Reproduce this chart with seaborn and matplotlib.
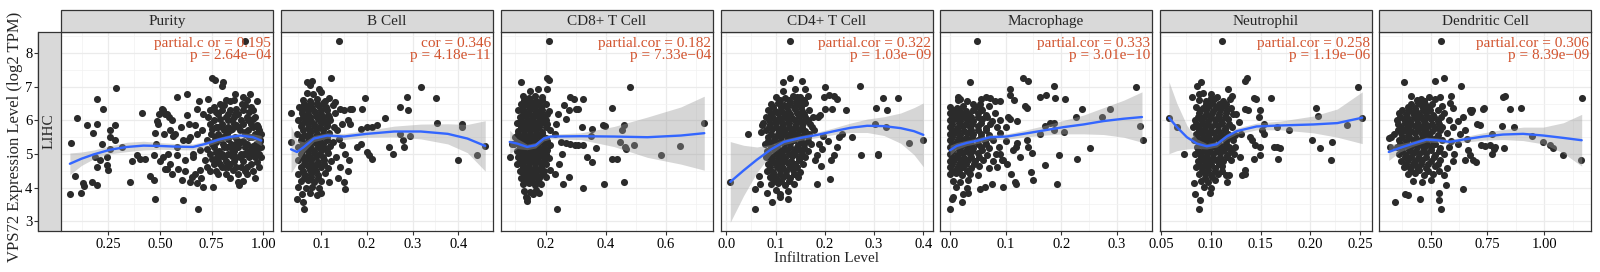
import matplotlib
matplotlib.use("Agg")
import matplotlib.pyplot as plt
from matplotlib.patches import Rectangle
from matplotlib.ticker import MultipleLocator
import numpy as np
import pandas as pd
import seaborn as sns

# ---- data ------------------------------------------------------------------
cells = ["Purity", "B Cell", "CD8+ T Cell", "CD4+ T Cell",
         "Macrophage", "Neutrophil", "Dendritic Cell"]
cor_labels = ["partial.c or = 0.195", "cor = 0.346", "partial.cor = 0.182",
              "partial.cor = 0.322", "partial.cor = 0.333", "partial.cor = 0.258",
              "partial.cor = 0.306"]
p_labels = ["p = 2.64e\u221204", "p = 4.18e\u221211", "p = 7.33e\u221204",
            "p = 1.03e\u221209", "p = 3.01e\u221210", "p = 1.19e\u221206",
            "p = 8.39e\u221209"]
x_ticks = [[0.25, 0.50, 0.75, 1.00], [0.1, 0.2, 0.3, 0.4], [0.2, 0.4, 0.6],
           [0.0, 0.1, 0.2, 0.3, 0.4], [0.0, 0.1, 0.2, 0.3],
           [0.05, 0.10, 0.15, 0.20, 0.25], [0.50, 0.75, 1.00]]
x_ticklabels = [["0.25", "0.50", "0.75", "1.00"], ["0.1", "0.2", "0.3", "0.4"],
                ["0.2", "0.4", "0.6"], ["0.0", "0.1", "0.2", "0.3", "0.4"],
                ["0.0", "0.1", "0.2", "0.3"],
                ["0.05", "0.10", "0.15", "0.20", "0.25"], ["0.50", "0.75", "1.00"]]
y_ticks = [3, 4, 5, 6, 7, 8]

purity_pts = [
    (0.064, 3.82), (0.068, 5.34), (0.097, 6.08), (0.089, 4.35), (0.116, 3.84), (0.129, 4.14),
    (0.132, 4.05), (0.148, 5.86), (0.174, 5.64), (0.197, 6.64), (0.194, 5.90), (0.185, 4.91),
    (0.169, 4.16), (0.197, 4.07), (0.194, 4.61), (0.226, 6.35), (0.219, 5.31), (0.21, 4.81),
    (0.242, 4.91), (0.245, 4.66), (0.25, 4.51), (0.258, 5.70), (0.258, 5.52), (0.282, 5.85),
    (0.287, 6.97), (0.282, 5.43), (0.258, 5.16), (0.315, 5.21), (0.355, 4.17), (0.367, 4.78),
    (0.39, 4.96), (0.403, 4.86), (0.415, 6.23), (0.427, 4.86), (0.452, 4.35), (0.471, 4.22),
    (0.476, 3.67), (0.471, 4.96), (0.476, 5.62), (0.484, 5.97), (0.497, 6.18), (0.508, 6.35),
    (0.516, 6.30), (0.524, 6.20), (0.516, 4.91), (0.524, 4.54), (0.532, 4.56), (0.532, 6.20),
    (0.545, 6.10), (0.548, 5.70), (0.556, 4.42), (0.565, 5.55), (0.581, 6.69), (0.573, 5.60),
    (0.581, 4.96), (0.589, 4.56), (0.605, 4.22), (0.61, 5.41), (0.613, 3.62), (0.621, 4.83),
    (0.629, 6.79), (0.629, 6.15), (0.637, 5.41), (0.645, 4.17), (0.645, 5.50), (0.653, 4.32),
    (0.661, 4.91), (0.669, 5.85), (0.677, 4.14), (0.681, 6.35), (0.685, 3.35), (0.69, 6.59),
    (0.694, 4.51), (0.694, 5.11), (0.702, 5.70), (0.71, 4.02), (0.718, 4.81), (0.726, 4.61),
    (0.726, 5.41), (0.734, 6.64), (0.734, 6.10), (0.742, 6.30), (0.75, 7.27), (0.758, 5.36),
    (0.758, 4.02), (0.766, 7.19), (0.774, 4.91), (0.782, 5.80), (0.79, 6.50), (0.798, 7.01),
    (0.806, 7.14), (0.798, 5.80), (0.806, 5.50), (0.815, 4.61), (0.823, 5.21), (0.831, 6.0),
    (0.839, 6.59), (0.847, 5.01), (0.855, 4.51), (0.863, 6.79), (0.863, 6.20), (0.871, 5.41),
    (0.879, 5.80), (0.879, 4.17), (0.884, 4.07), (0.887, 4.91), (0.895, 6.50), (0.903, 6.69),
    (0.911, 5.60), (0.919, 4.61), (0.927, 6.0), (0.935, 6.79), (0.944, 5.21), (0.952, 6.30),
    (0.96, 5.11), (0.968, 6.59), (0.976, 5.80), (0.984, 5.41), (0.988, 4.91), (0.99, 5.60),
    (0.911, 8.36),
    (0.74, 4.5), (0.74, 5.0), (0.745, 5.6), (0.74, 5.9), (0.76, 4.7), (0.76, 5.2), (0.765, 5.5),
    (0.76, 6.0), (0.76, 6.4), (0.78, 4.4), (0.78, 4.8), (0.785, 5.1), (0.78, 5.6), (0.78, 6.2),
    (0.80, 4.6), (0.80, 5.0), (0.805, 5.3), (0.80, 5.9), (0.80, 6.3), (0.82, 4.4), (0.82, 4.8),
    (0.825, 5.6), (0.82, 6.1), (0.82, 6.6), (0.84, 4.3), (0.84, 4.7), (0.845, 5.3), (0.84, 5.7),
    (0.84, 6.3), (0.86, 4.8), (0.86, 5.1), (0.865, 5.5), (0.86, 5.9), (0.86, 6.1), (0.86, 6.6),
    (0.88, 4.4), (0.88, 5.2), (0.885, 5.7), (0.88, 6.2), (0.90, 4.2), (0.90, 4.8), (0.905, 5.0),
    (0.90, 5.4), (0.90, 5.9), (0.90, 6.3), (0.92, 4.4), (0.92, 5.3), (0.925, 5.7), (0.92, 6.1),
    (0.92, 6.6), (0.94, 4.7), (0.94, 5.0), (0.945, 5.5), (0.94, 5.9), (0.94, 6.4), (0.96, 4.3),
    (0.96, 4.9), (0.965, 5.3), (0.96, 5.6), (0.96, 6.1), (0.98, 4.6), (0.98, 5.0), (0.985, 5.4),
    (0.98, 5.7), (0.48, 5.3), (0.50, 4.8), (0.52, 5.6), (0.54, 5.0), (0.56, 6.0), (0.58, 5.2),
    (0.60, 5.8), (0.62, 4.5), (0.64, 5.9), (0.66, 5.0), (0.68, 5.6), (0.70, 4.3), (0.49, 5.9),
    (0.55, 4.7), (0.67, 4.4), (0.71, 6.2), (0.75, 5.3), (0.77, 5.8), (0.79, 4.95), (0.81, 5.7),
    (0.83, 5.0), (0.85, 6.0), (0.87, 4.6), (0.89, 5.0), (0.91, 5.2), (0.93, 4.9), (0.95, 5.8),
    (0.97, 5.5), (0.83, 5.45), (0.87, 5.3), (0.91, 5.65), (0.95, 5.25), (0.73, 5.15), (0.77, 6.25),
    (0.75, 4.85), (0.75, 5.75), (0.77, 4.5), (0.77, 5.05), (0.77, 5.35), (0.79, 4.7), (0.79, 5.45),
    (0.79, 6.05), (0.81, 4.9), (0.81, 5.2), (0.81, 6.45), (0.83, 4.6), (0.83, 5.8), (0.83, 6.2),
    (0.85, 4.95), (0.85, 5.15), (0.85, 5.75), (0.87, 4.9), (0.87, 5.85), (0.87, 6.35),
    (0.89, 4.6), (0.89, 5.35), (0.89, 6.0), (0.91, 4.5), (0.91, 5.0), (0.91, 6.45), (0.93, 5.1),
    (0.93, 5.5), (0.93, 6.25), (0.95, 4.5), (0.95, 5.05), (0.95, 6.05), (0.97, 4.75),
    (0.97, 5.15), (0.97, 5.85), (0.99, 5.2),
]

bcell_pts = [
    (0.139, 8.36), (0.122, 7.27), (0.069, 7.14), (0.080, 7.17), (0.075, 7.04), (0.095, 6.94),
    (0.034, 6.22), (0.033, 5.36), (0.047, 3.67), (0.062, 3.35), (0.060, 3.57), (0.099, 3.84),
    (0.142, 6.35), (0.150, 6.30), (0.163, 6.35), (0.168, 6.35), (0.159, 6.0), (0.163, 5.9),
    (0.190, 6.35), (0.195, 6.66), (0.186, 5.75), (0.2, 5.8), (0.212, 5.8), (0.223, 5.85),
    (0.239, 6.07), (0.249, 5.21), (0.258, 5.01), (0.2, 5.06), (0.205, 4.96), (0.212, 4.86),
    (0.179, 5.2), (0.186, 5.29), (0.146, 5.26), (0.153, 5.01), (0.161, 4.81), (0.159, 4.5),
    (0.15, 4.17), (0.153, 3.97), (0.142, 4.61), (0.273, 5.6), (0.278, 5.41), (0.281, 5.21),
    (0.295, 5.55), (0.273, 6.4), (0.289, 6.3), (0.287, 6.71), (0.318, 6.99), (0.351, 6.66),
    (0.353, 5.92), (0.409, 5.9), (0.409, 5.8), (0.4, 4.83), (0.442, 4.96), (0.459, 5.24),
    (0.135, 5.7), (0.14, 5.45), (0.133, 4.9), (0.137, 4.3), (0.145, 5.9), (0.13, 6.55),
    (0.068, 6.82), (0.083, 6.78), (0.1, 6.85),
    (0.06, 6.62), (0.075, 6.57), (0.09, 6.64), (0.108, 6.58), (0.118, 6.66),
    (0.052, 6.41), (0.066, 6.44), (0.08, 6.38), (0.095, 6.43), (0.11, 6.39), (0.125, 6.45),
    (0.058, 6.22), (0.072, 6.18), (0.086, 6.24), (0.1, 6.2), (0.115, 6.17), (0.13, 6.23),
    (0.05, 6.01), (0.064, 6.04), (0.078, 5.98), (0.092, 6.03), (0.106, 5.99), (0.12, 6.02),
    (0.055, 5.82), (0.07, 5.78), (0.084, 5.83), (0.098, 5.79), (0.112, 5.84), (0.128, 5.8),
    (0.048, 5.61), (0.062, 5.58), (0.076, 5.63), (0.09, 5.6), (0.104, 5.57), (0.118, 5.62),
    (0.056, 5.42), (0.07, 5.38), (0.084, 5.43), (0.098, 5.39), (0.112, 5.41), (0.126, 5.37),
    (0.05, 5.2), (0.064, 5.23), (0.078, 5.18), (0.092, 5.22), (0.106, 5.19), (0.12, 5.24),
    (0.055, 5.01), (0.07, 4.98), (0.084, 5.03), (0.098, 4.99), (0.114, 5.02),
    (0.05, 4.82), (0.064, 4.78), (0.078, 4.81), (0.092, 4.77), (0.106, 4.83), (0.122, 4.79),
    (0.056, 4.6), (0.07, 4.63), (0.084, 4.58), (0.1, 4.62), (0.115, 4.59),
    (0.05, 4.41), (0.064, 4.38), (0.078, 4.42), (0.093, 4.39), (0.108, 4.43),
    (0.055, 4.2), (0.07, 4.23), (0.085, 4.18), (0.1, 4.21), (0.118, 4.17),
    (0.05, 4.02), (0.066, 3.98), (0.08, 4.03), (0.095, 3.99),
    (0.058, 3.8), (0.075, 3.83), (0.09, 3.78),
    (0.063, 6.5), (0.077, 6.52), (0.091, 6.49), (0.105, 6.51),
    (0.057, 6.3), (0.071, 6.32), (0.085, 6.29), (0.099, 6.31), (0.113, 6.3),
    (0.061, 6.11), (0.075, 6.09), (0.089, 6.12), (0.103, 6.1), (0.117, 6.11),
    (0.057, 5.9), (0.071, 5.92), (0.085, 5.89), (0.099, 5.91), (0.113, 5.9),
    (0.061, 5.71), (0.075, 5.69), (0.089, 5.72), (0.103, 5.7),
    (0.057, 5.5), (0.071, 5.52), (0.085, 5.49), (0.099, 5.51), (0.113, 5.5),
    (0.061, 5.31), (0.075, 5.29), (0.089, 5.32), (0.103, 5.3),
    (0.057, 5.1), (0.071, 5.12), (0.085, 5.09), (0.099, 5.11), (0.113, 5.1),
    (0.061, 4.91), (0.075, 4.89), (0.089, 4.92), (0.103, 4.9),
    (0.063, 4.7), (0.077, 4.72), (0.091, 4.69), (0.107, 4.71),
    (0.061, 4.5), (0.075, 4.52), (0.089, 4.49),
    (0.063, 4.3), (0.078, 4.31), (0.092, 4.29),
]

cd8_pts = [
    (0.211, 8.36), (0.206, 7.27), (0.211, 7.19), (0.117, 7.14), (0.206, 6.94), (0.481, 6.99),
    (0.42, 6.38), (0.283, 6.69), (0.294, 6.64), (0.324, 6.64), (0.30, 6.35), (0.308, 6.35),
    (0.278, 6.3), (0.267, 6.05), (0.391, 5.85), (0.398, 5.82), (0.461, 5.85), (0.456, 5.7),
    (0.322, 5.8), (0.356, 5.75), (0.35, 5.55), (0.367, 5.18), (0.339, 4.91), (0.356, 4.76),
    (0.42, 4.86), (0.439, 4.86), (0.448, 5.36), (0.463, 5.21), (0.469, 5.16), (0.494, 5.26),
    (0.583, 4.96), (0.647, 5.24), (0.728, 5.92), (0.326, 3.99), (0.394, 4.12), (0.461, 4.17),
    (0.239, 3.35), (0.139, 3.6), (0.137, 3.7), (0.159, 3.8), (0.178, 3.84), (0.278, 4.32),
    (0.259, 4.1), (0.25, 5.36), (0.267, 5.33), (0.283, 5.31), (0.297, 5.28), (0.308, 5.26),
    (0.326, 5.26), (0.235, 5.9), (0.24, 6.2), (0.245, 4.7), (0.23, 4.4), (0.255, 5.0),
    (0.23, 5.6), (0.26, 6.45), (0.083, 4.91), (0.09, 5.3),
    (0.15, 6.88), (0.175, 6.92),
    (0.125, 6.72), (0.145, 6.68), (0.165, 6.73), (0.19, 6.69),
    (0.12, 6.5), (0.14, 6.53), (0.16, 6.48), (0.18, 6.52), (0.2, 6.49),
    (0.11, 6.31), (0.13, 6.28), (0.15, 6.33), (0.17, 6.29), (0.19, 6.32), (0.21, 6.27),
    (0.115, 6.1), (0.135, 6.13), (0.155, 6.08), (0.175, 6.12), (0.195, 6.09),
    (0.105, 5.91), (0.125, 5.88), (0.145, 5.92), (0.165, 5.89), (0.185, 5.93), (0.205, 5.88),
    (0.11, 5.69), (0.13, 5.72), (0.15, 5.68), (0.17, 5.71), (0.19, 5.67), (0.215, 5.72),
    (0.1, 5.5), (0.12, 5.48), (0.14, 5.52), (0.16, 5.49), (0.18, 5.53), (0.2, 5.48),
    (0.095, 5.31), (0.115, 5.28), (0.135, 5.32), (0.155, 5.29), (0.175, 5.33), (0.195, 5.3),
    (0.215, 5.27),
    (0.105, 5.1), (0.125, 5.13), (0.145, 5.08), (0.165, 5.12), (0.185, 5.09), (0.205, 5.11),
    (0.11, 4.9), (0.13, 4.88), (0.15, 4.92), (0.17, 4.89), (0.19, 4.93), (0.21, 4.88),
    (0.105, 4.71), (0.125, 4.68), (0.145, 4.72), (0.165, 4.69), (0.185, 4.73), (0.2, 4.7),
    (0.115, 4.5), (0.135, 4.53), (0.155, 4.48), (0.175, 4.52), (0.195, 4.49), (0.215, 4.51),
    (0.12, 4.3), (0.14, 4.28), (0.16, 4.32), (0.18, 4.29), (0.2, 4.31),
    (0.125, 4.1), (0.145, 4.13), (0.165, 4.08), (0.185, 4.12),
    (0.13, 3.91), (0.15, 3.88), (0.17, 3.92),
    (0.135, 3.72),
    (0.13, 6.6), (0.15, 6.62), (0.17, 6.59), (0.19, 6.61),
    (0.125, 6.4), (0.145, 6.42), (0.165, 6.39), (0.185, 6.41),
    (0.125, 6.2), (0.145, 6.21), (0.165, 6.19), (0.185, 6.2), (0.205, 6.2),
    (0.12, 6.0), (0.14, 6.02), (0.16, 5.99), (0.18, 6.01), (0.2, 6.0),
    (0.12, 5.8), (0.14, 5.81), (0.16, 5.79), (0.18, 5.8), (0.2, 5.8),
    (0.11, 5.6), (0.13, 5.61), (0.15, 5.59), (0.17, 5.6), (0.19, 5.61),
    (0.105, 5.4), (0.125, 5.41), (0.145, 5.39), (0.165, 5.4), (0.185, 5.41), (0.205, 5.39),
    (0.115, 5.2), (0.135, 5.21), (0.155, 5.19), (0.175, 5.2), (0.195, 5.21),
    (0.12, 5.0), (0.14, 5.01), (0.16, 4.99), (0.18, 5.0), (0.2, 5.01),
    (0.115, 4.8), (0.135, 4.81), (0.155, 4.79), (0.175, 4.8), (0.195, 4.81),
    (0.125, 4.6), (0.145, 4.61), (0.165, 4.59), (0.185, 4.6),
    (0.13, 4.4), (0.15, 4.41), (0.17, 4.39), (0.19, 4.4),
    (0.135, 4.2), (0.155, 4.21), (0.175, 4.19),
]

cd4_pts = [
    (0.008, 4.17), (0.045, 5.6), (0.059, 3.35), (0.058, 3.97), (0.069, 4.12), (0.066, 4.35),
    (0.073, 5.85), (0.071, 5.65), (0.083, 3.84), (0.093, 3.57), (0.109, 3.82), (0.109, 3.72),
    (0.125, 3.67), (0.115, 7.14), (0.129, 7.27), (0.13, 8.36), (0.154, 7.17), (0.16, 6.94),
    (0.144, 6.69), (0.151, 6.59), (0.2, 6.99), (0.198, 6.69), (0.208, 6.77), (0.219, 6.74),
    (0.224, 6.64), (0.2, 6.35), (0.215, 6.35), (0.186, 6.1), (0.191, 6.15), (0.242, 6.3),
    (0.272, 7.01), (0.303, 6.38), (0.319, 6.67), (0.326, 6.3), (0.348, 6.66), (0.301, 5.88),
    (0.324, 5.8), (0.229, 5.5), (0.224, 5.21), (0.218, 4.96), (0.212, 4.81), (0.185, 4.12),
    (0.21, 4.27), (0.273, 4.96), (0.307, 5.0), (0.307, 4.96), (0.371, 5.34), (0.4, 5.41),
    (0.188, 5.31), (0.195, 5.16), (0.185, 4.96), (0.181, 4.83), (0.193, 4.63), (0.174, 5.8),
    (0.168, 5.6), (0.197, 5.55), (0.206, 5.4), (0.235, 5.6), (0.255, 5.5),
    (0.115, 6.88), (0.14, 6.92),
    (0.1, 6.71), (0.12, 6.68), (0.135, 6.73), (0.15, 6.69), (0.165, 6.72),
    (0.09, 6.49), (0.105, 6.52), (0.118, 6.47), (0.13, 6.51), (0.145, 6.48), (0.16, 6.53),
    (0.085, 6.31), (0.098, 6.28), (0.112, 6.32), (0.125, 6.29), (0.14, 6.33), (0.153, 6.28),
    (0.168, 6.31),
    (0.08, 6.09), (0.093, 6.12), (0.106, 6.08), (0.12, 6.11), (0.133, 6.07), (0.147, 6.12),
    (0.16, 6.09), (0.175, 6.11),
    (0.075, 5.91), (0.088, 5.88), (0.1, 5.92), (0.115, 5.89), (0.128, 5.93), (0.142, 5.88),
    (0.155, 5.91), (0.17, 5.89),
    (0.08, 5.7), (0.093, 5.73), (0.106, 5.68), (0.12, 5.72), (0.133, 5.69), (0.147, 5.71),
    (0.16, 5.68), (0.178, 5.72),
    (0.085, 5.5), (0.098, 5.48), (0.11, 5.52), (0.125, 5.49), (0.138, 5.53), (0.152, 5.48),
    (0.165, 5.51),
    (0.078, 5.31), (0.09, 5.28), (0.104, 5.32), (0.117, 5.29), (0.13, 5.33), (0.145, 5.28),
    (0.158, 5.31), (0.172, 5.29),
    (0.083, 5.1), (0.096, 5.13), (0.11, 5.08), (0.123, 5.12), (0.137, 5.09), (0.15, 5.11),
    (0.165, 5.08),
    (0.08, 4.91), (0.093, 4.88), (0.106, 4.92), (0.12, 4.89), (0.133, 4.93), (0.147, 4.88),
    (0.16, 4.91),
    (0.085, 4.7), (0.098, 4.73), (0.112, 4.68), (0.125, 4.72), (0.14, 4.69), (0.155, 4.71),
    (0.082, 4.5), (0.095, 4.48), (0.108, 4.52), (0.122, 4.49), (0.136, 4.53), (0.15, 4.48),
    (0.088, 4.31), (0.1, 4.28), (0.115, 4.32), (0.13, 4.29), (0.145, 4.31),
    (0.09, 4.1), (0.105, 4.13), (0.12, 4.08), (0.138, 4.11),
    (0.1, 3.92), (0.125, 3.89),
    (0.108, 6.6), (0.127, 6.61), (0.142, 6.59), (0.157, 6.6),
    (0.095, 6.4), (0.11, 6.41), (0.124, 6.39), (0.137, 6.4), (0.152, 6.41),
    (0.09, 6.2), (0.104, 6.21), (0.117, 6.19), (0.13, 6.2), (0.143, 6.21), (0.157, 6.2),
    (0.086, 6.0), (0.099, 6.01), (0.112, 5.99), (0.126, 6.0), (0.139, 6.01), (0.152, 5.99),
    (0.165, 6.0),
    (0.087, 5.8), (0.1, 5.81), (0.113, 5.79), (0.127, 5.8), (0.14, 5.81), (0.154, 5.79),
    (0.09, 5.6), (0.104, 5.61), (0.117, 5.59), (0.13, 5.6), (0.144, 5.61), (0.158, 5.59),
    (0.084, 5.4), (0.097, 5.41), (0.111, 5.39), (0.124, 5.4), (0.138, 5.41), (0.151, 5.39),
    (0.165, 5.4),
    (0.09, 5.2), (0.103, 5.21), (0.117, 5.19), (0.13, 5.2), (0.144, 5.21), (0.158, 5.19),
    (0.087, 5.0), (0.1, 5.01), (0.113, 4.99), (0.127, 5.0), (0.14, 5.01), (0.154, 4.99),
    (0.09, 4.8), (0.104, 4.81), (0.118, 4.79), (0.132, 4.8), (0.147, 4.81),
    (0.088, 4.6), (0.102, 4.61), (0.115, 4.59), (0.129, 4.6), (0.143, 4.61),
    (0.094, 4.4), (0.108, 4.41), (0.122, 4.39), (0.137, 4.4),
    (0.097, 4.2), (0.112, 4.21), (0.128, 4.19),
]

macro_pts = [
    (0.048, 8.36), (0.036, 7.14), (0.131, 7.27), (0.141, 7.17), (0.107, 6.94), (0.107, 6.77),
    (0.015, 6.69), (0.018, 6.64), (0.042, 6.5), (0.054, 6.5), (0.055, 6.35), (0.065, 6.69),
    (0.072, 6.67), (0.081, 6.59), (0.09, 6.59), (0.115, 6.62), (0.162, 6.71), (0.173, 6.76),
    (0.187, 7.01), (0.188, 6.66), (0.207, 6.64), (0.135, 6.44), (0.139, 6.36), (0.105, 6.1),
    (0.108, 6.05), (0.12, 5.98), (0.226, 6.1), (0.237, 6.35), (0.288, 6.35), (0.273, 6.1),
    (0.334, 6.99), (0.341, 5.82), (0.347, 5.41), (0.162, 5.6), (0.171, 5.82), (0.18, 5.92),
    (0.187, 5.92), (0.187, 5.7), (0.205, 5.65), (0.139, 5.41), (0.141, 5.21), (0.147, 5.03),
    (0.12, 5.33), (0.119, 5.21), (0.113, 5.11), (0.195, 4.96), (0.251, 5.18), (0.229, 4.86),
    (0.17, 4.68), (0.145, 4.47), (0.15, 4.22), (0.192, 4.12), (0.096, 4.02), (0.117, 4.17),
    (0.119, 4.12), (0.075, 4.12), (0.063, 4.02), (0.054, 3.97), (0.021, 3.57), (0.0, 3.35),
    (0.003, 3.67), (0.006, 3.72), (0.024, 3.82), (0.033, 3.84), (0.09, 5.01), (0.093, 4.81),
    (0.102, 4.71), (0.084, 4.61), (0.11, 4.4), (0.125, 4.9), (0.1, 5.8),
    (0.015, 6.62), (0.03, 6.58), (0.055, 6.63),
    (0.0, 6.41), (0.012, 6.38), (0.024, 6.43), (0.045, 6.39), (0.07, 6.42),
    (0.0, 6.21), (0.01, 6.18), (0.022, 6.23), (0.035, 6.19), (0.05, 6.22), (0.065, 6.17),
    (0.08, 6.21),
    (0.0, 6.01), (0.008, 6.04), (0.018, 5.98), (0.03, 6.02), (0.042, 5.99), (0.058, 6.03),
    (0.075, 5.98), (0.09, 6.02),
    (0.0, 5.81), (0.012, 5.78), (0.024, 5.83), (0.036, 5.79), (0.05, 5.82), (0.065, 5.78),
    (0.085, 5.81),
    (0.0, 5.6), (0.008, 5.63), (0.018, 5.58), (0.03, 5.62), (0.042, 5.59), (0.055, 5.61),
    (0.07, 5.58), (0.09, 5.62),
    (0.0, 5.41), (0.012, 5.38), (0.024, 5.42), (0.036, 5.39), (0.05, 5.43), (0.062, 5.38),
    (0.078, 5.41), (0.1, 5.39),
    (0.0, 5.2), (0.008, 5.23), (0.018, 5.18), (0.03, 5.22), (0.042, 5.19), (0.056, 5.21),
    (0.07, 5.18), (0.088, 5.22),
    (0.0, 5.01), (0.012, 4.98), (0.024, 5.03), (0.036, 4.99), (0.05, 5.02), (0.066, 4.98),
    (0.082, 5.01),
    (0.0, 4.8), (0.008, 4.83), (0.02, 4.78), (0.032, 4.82), (0.045, 4.79), (0.06, 4.81),
    (0.078, 4.78), (0.095, 4.82),
    (0.0, 4.61), (0.012, 4.58), (0.024, 4.62), (0.038, 4.59), (0.052, 4.63), (0.07, 4.58),
    (0.0, 4.4), (0.01, 4.43), (0.022, 4.38), (0.036, 4.42), (0.05, 4.39),
    (0.005, 4.21), (0.018, 4.18), (0.032, 4.22),
    (0.01, 4.01), (0.03, 3.98),
    (0.006, 6.3), (0.017, 6.31), (0.029, 6.29), (0.041, 6.3), (0.057, 6.31),
    (0.004, 6.1), (0.014, 6.11), (0.026, 6.09), (0.038, 6.1), (0.05, 6.11), (0.066, 6.1),
    (0.004, 5.9), (0.016, 5.91), (0.028, 5.89), (0.04, 5.9), (0.056, 5.91), (0.072, 5.9),
    (0.004, 5.7), (0.014, 5.71), (0.026, 5.69), (0.038, 5.7), (0.05, 5.71), (0.064, 5.7),
    (0.004, 5.5), (0.016, 5.51), (0.028, 5.49), (0.04, 5.5), (0.056, 5.51), (0.07, 5.5),
    (0.004, 5.3), (0.014, 5.31), (0.026, 5.29), (0.038, 5.3), (0.05, 5.31), (0.064, 5.3),
    (0.004, 5.1), (0.016, 5.11), (0.028, 5.09), (0.04, 5.1), (0.058, 5.11),
    (0.004, 4.9), (0.014, 4.91), (0.026, 4.89), (0.038, 4.9), (0.052, 4.91),
    (0.004, 4.7), (0.016, 4.71), (0.028, 4.69), (0.044, 4.7),
    (0.004, 4.5), (0.016, 4.51), (0.03, 4.49),
]

neutro_pts = [
    (0.058, 6.08), (0.066, 5.8), (0.073, 5.01), (0.111, 8.36), (0.09, 7.14), (0.086, 7.01),
    (0.081, 6.71), (0.088, 6.79), (0.1, 6.66), (0.106, 6.71), (0.117, 6.94), (0.121, 6.74),
    (0.119, 6.64), (0.134, 7.17), (0.136, 7.27), (0.143, 6.66), (0.145, 6.64), (0.134, 6.35),
    (0.137, 6.3), (0.149, 6.32), (0.16, 6.66), (0.148, 6.1), (0.166, 5.8), (0.153, 5.9),
    (0.206, 6.38), (0.208, 6.12), (0.248, 6.99), (0.252, 6.08), (0.237, 5.87), (0.178, 5.7),
    (0.153, 5.6), (0.151, 5.7), (0.139, 5.5), (0.141, 5.41), (0.144, 5.28), (0.149, 5.21),
    (0.163, 5.21), (0.166, 5.21), (0.169, 5.18), (0.167, 4.86), (0.143, 4.86), (0.149, 4.96),
    (0.202, 5.41), (0.21, 5.18), (0.222, 5.36), (0.221, 4.83), (0.134, 4.51), (0.131, 4.37),
    (0.134, 4.42), (0.118, 4.37), (0.116, 4.17), (0.088, 3.35), (0.089, 3.62), (0.084, 3.82),
    (0.083, 4.14), (0.099, 3.84), (0.124, 5.21), (0.129, 4.91), (0.13, 5.6), (0.128, 5.95),
    (0.125, 6.2),
    (0.092, 6.82), (0.1, 6.78),
    (0.088, 6.61), (0.095, 6.58), (0.103, 6.63), (0.112, 6.59),
    (0.085, 6.41), (0.092, 6.38), (0.098, 6.43), (0.105, 6.39), (0.112, 6.42), (0.12, 6.38),
    (0.088, 6.21), (0.095, 6.18), (0.101, 6.23), (0.108, 6.19), (0.115, 6.22), (0.122, 6.18),
    (0.084, 6.01), (0.09, 6.04), (0.097, 5.98), (0.104, 6.02), (0.11, 5.99), (0.117, 6.03),
    (0.082, 5.81), (0.088, 5.78), (0.094, 5.83), (0.1, 5.79), (0.107, 5.82), (0.114, 5.78),
    (0.121, 5.81),
    (0.085, 5.6), (0.091, 5.63), (0.097, 5.58), (0.103, 5.62), (0.11, 5.59), (0.117, 5.61),
    (0.124, 5.58),
    (0.083, 5.41), (0.089, 5.38), (0.095, 5.42), (0.101, 5.39), (0.108, 5.43), (0.115, 5.38),
    (0.122, 5.41),
    (0.086, 5.2), (0.092, 5.23), (0.098, 5.18), (0.104, 5.22), (0.111, 5.19), (0.118, 5.21),
    (0.084, 5.01), (0.09, 4.98), (0.096, 5.03), (0.102, 4.99), (0.109, 5.02), (0.116, 4.98),
    (0.123, 5.01),
    (0.087, 4.8), (0.093, 4.83), (0.099, 4.78), (0.105, 4.82), (0.112, 4.79), (0.12, 4.81),
    (0.085, 4.61), (0.091, 4.58), (0.097, 4.62), (0.104, 4.59), (0.111, 4.63),
    (0.088, 4.4), (0.094, 4.43), (0.1, 4.38), (0.107, 4.42), (0.115, 4.39),
    (0.09, 4.21), (0.097, 4.18), (0.104, 4.22),
    (0.093, 4.01), (0.1, 3.98),
    (0.095, 6.5), (0.101, 6.51), (0.108, 6.49), (0.115, 6.5),
    (0.089, 6.3), (0.095, 6.31), (0.102, 6.29), (0.109, 6.3), (0.116, 6.31),
    (0.087, 6.1), (0.093, 6.11), (0.1, 6.09), (0.107, 6.1), (0.114, 6.11),
    (0.085, 5.9), (0.091, 5.91), (0.097, 5.89), (0.104, 5.9), (0.111, 5.91), (0.118, 5.9),
    (0.088, 5.7), (0.094, 5.71), (0.1, 5.69), (0.107, 5.7), (0.114, 5.71),
    (0.086, 5.5), (0.092, 5.51), (0.098, 5.49), (0.105, 5.5), (0.112, 5.51), (0.119, 5.5),
    (0.089, 5.3), (0.095, 5.31), (0.101, 5.29), (0.108, 5.3), (0.115, 5.31),
    (0.087, 5.1), (0.093, 5.11), (0.099, 5.09), (0.106, 5.1), (0.113, 5.11), (0.12, 5.1),
    (0.09, 4.9), (0.096, 4.91), (0.102, 4.89), (0.109, 4.9), (0.116, 4.91),
    (0.088, 4.7), (0.094, 4.71), (0.1, 4.69), (0.108, 4.7),
    (0.091, 4.5), (0.097, 4.51), (0.104, 4.49), (0.111, 4.5),
    (0.094, 4.3), (0.101, 4.31),
]

dendri_pts = [
    (0.543, 8.36), (0.381, 7.14), (0.518, 7.17), (0.557, 7.27), (0.635, 7.01), (0.415, 6.74),
    (0.459, 6.64), (0.469, 6.59), (0.493, 6.69), (0.54, 6.69), (0.591, 6.74), (0.584, 6.52),
    (0.596, 6.38), (0.672, 6.3), (0.676, 6.25), (0.68, 6.3), (0.735, 6.38), (0.728, 6.33),
    (0.82, 6.7), (0.826, 6.72), (0.849, 6.35), (0.896, 6.38), (1.168, 6.66), (0.718, 5.85),
    (0.704, 5.88), (0.812, 5.82), (0.866, 5.8), (0.772, 5.6), (0.944, 5.55), (0.993, 5.36),
    (1.025, 5.26), (1.04, 5.19), (1.084, 4.96), (1.162, 4.81), (0.723, 5.26), (0.738, 5.23),
    (0.76, 5.26), (0.778, 5.16), (0.785, 5.21), (0.824, 5.18), (0.768, 5.01), (0.665, 5.11),
    (0.672, 4.96), (0.687, 4.83), (0.699, 4.76), (0.65, 4.83), (0.601, 5.01), (0.643, 3.97),
    (0.569, 4.07), (0.537, 3.84), (0.537, 3.62), (0.543, 3.35), (0.451, 3.67), (0.4, 3.77),
    (0.385, 3.82), (0.341, 3.57), (0.315, 5.49), (0.327, 5.51), (0.32, 5.21), (0.65, 5.7),
    (0.66, 5.45), (0.64, 6.1), (0.62, 5.3),
    (0.44, 6.62), (0.47, 6.58), (0.52, 6.63),
    (0.4, 6.41), (0.43, 6.38), (0.46, 6.43), (0.49, 6.39), (0.55, 6.42),
    (0.36, 6.21), (0.39, 6.18), (0.42, 6.23), (0.45, 6.19), (0.48, 6.22), (0.51, 6.17),
    (0.56, 6.21),
    (0.35, 6.01), (0.38, 6.04), (0.41, 5.98), (0.44, 6.02), (0.47, 5.99), (0.5, 6.03),
    (0.53, 5.98), (0.58, 6.02), (0.62, 5.99),
    (0.37, 5.81), (0.4, 5.78), (0.43, 5.83), (0.46, 5.79), (0.49, 5.82), (0.52, 5.78),
    (0.55, 5.81), (0.6, 5.79),
    (0.34, 5.6), (0.37, 5.63), (0.4, 5.58), (0.43, 5.62), (0.46, 5.59), (0.49, 5.61),
    (0.53, 5.58), (0.57, 5.62), (0.63, 5.59),
    (0.36, 5.41), (0.39, 5.38), (0.42, 5.42), (0.45, 5.39), (0.48, 5.43), (0.51, 5.38),
    (0.55, 5.41), (0.59, 5.39),
    (0.35, 5.2), (0.38, 5.23), (0.41, 5.18), (0.44, 5.22), (0.47, 5.19), (0.5, 5.21),
    (0.54, 5.18), (0.58, 5.22),
    (0.36, 5.01), (0.39, 4.98), (0.42, 5.03), (0.45, 4.99), (0.48, 5.02), (0.52, 4.98),
    (0.56, 5.01),
    (0.37, 4.8), (0.4, 4.83), (0.43, 4.78), (0.46, 4.82), (0.5, 4.79), (0.54, 4.81),
    (0.6, 4.78),
    (0.38, 4.61), (0.41, 4.58), (0.44, 4.62), (0.48, 4.59), (0.52, 4.63), (0.57, 4.58),
    (0.4, 4.4), (0.43, 4.43), (0.47, 4.38), (0.51, 4.42), (0.56, 4.39),
    (0.42, 4.21), (0.46, 4.18), (0.5, 4.22),
    (0.415, 6.5), (0.445, 6.51), (0.475, 6.49), (0.505, 6.5),
    (0.375, 6.3), (0.405, 6.31), (0.435, 6.29), (0.465, 6.3), (0.495, 6.31), (0.53, 6.3),
    (0.365, 6.1), (0.395, 6.11), (0.425, 6.09), (0.455, 6.1), (0.485, 6.11), (0.515, 6.1),
    (0.545, 6.1),
    (0.355, 5.9), (0.385, 5.91), (0.415, 5.89), (0.445, 5.9), (0.475, 5.91), (0.505, 5.89),
    (0.535, 5.9),
    (0.355, 5.7), (0.385, 5.71), (0.415, 5.69), (0.445, 5.7), (0.475, 5.71), (0.505, 5.69),
    (0.54, 5.7),
    (0.375, 5.5), (0.405, 5.51), (0.435, 5.49), (0.465, 5.5), (0.495, 5.51), (0.525, 5.49),
    (0.365, 5.3), (0.395, 5.31), (0.425, 5.29), (0.455, 5.3), (0.485, 5.31), (0.52, 5.29),
    (0.375, 5.1), (0.405, 5.11), (0.435, 5.09), (0.465, 5.1), (0.5, 5.11), (0.535, 5.09),
    (0.385, 4.9), (0.415, 4.91), (0.445, 4.89), (0.48, 4.9), (0.515, 4.91),
    (0.39, 4.7), (0.42, 4.71), (0.455, 4.69), (0.49, 4.7), (0.53, 4.71),
    (0.415, 4.5), (0.45, 4.51), (0.49, 4.49), (0.535, 4.5),
]

# loess fits (x, fitted value, half width of the confidence band)
purity_fx = [0.064, 0.12, 0.18, 0.26, 0.34, 0.42, 0.50, 0.58, 0.66, 0.72, 0.78, 0.84, 0.89, 0.95, 0.99]
purity_fit = [4.71, 4.86, 4.99, 5.13, 5.21, 5.25, 5.24, 5.22, 5.21, 5.30, 5.42, 5.51, 5.55, 5.50, 5.40]
purity_se = [0.32, 0.2, 0.13, 0.12, 0.14, 0.13, 0.1, 0.09, 0.09, 0.08, 0.07, 0.07, 0.08, 0.1, 0.15]

bcell_fx = [0.034, 0.047, 0.062, 0.084, 0.113, 0.15, 0.2, 0.26, 0.318, 0.377, 0.42, 0.459]
bcell_fit = [5.14, 5.06, 5.21, 5.46, 5.55, 5.52, 5.6, 5.67, 5.67, 5.6, 5.46, 5.24]
bcell_se = [0.7, 0.35, 0.15, 0.09, 0.08, 0.09, 0.1, 0.16, 0.22, 0.3, 0.42, 0.75]

cd8_fx = [0.081, 0.106, 0.139, 0.167, 0.194, 0.217, 0.317, 0.428, 0.539, 0.65, 0.728]
cd8_fit = [5.36, 5.31, 5.21, 5.26, 5.46, 5.52, 5.53, 5.52, 5.5, 5.55, 5.62]
cd8_se = [0.35, 0.15, 0.08, 0.08, 0.07, 0.07, 0.1, 0.3, 0.6, 0.85, 1.1]

cd4_fx = [0.008, 0.035, 0.062, 0.09, 0.117, 0.151, 0.185, 0.219, 0.252, 0.286, 0.32, 0.354, 0.381, 0.4]
cd4_fit = [4.17, 4.51, 4.83, 5.13, 5.36, 5.48, 5.57, 5.68, 5.78, 5.84, 5.83, 5.77, 5.68, 5.57]
cd4_se = [1.2, 0.75, 0.38, 0.15, 0.08, 0.07, 0.08, 0.1, 0.14, 0.2, 0.28, 0.45, 0.7, 0.95]

macro_fx = [0.0, 0.012, 0.03, 0.048, 0.072, 0.102, 0.132, 0.168, 0.204, 0.24, 0.276, 0.312, 0.345]
macro_fit = [5.11, 5.24, 5.33, 5.39, 5.5, 5.52, 5.6, 5.7, 5.8, 5.88, 5.98, 6.05, 6.1]
macro_se = [0.15, 0.1, 0.08, 0.08, 0.08, 0.08, 0.1, 0.14, 0.2, 0.28, 0.4, 0.55, 0.75]

neutro_fx = [0.058, 0.066, 0.076, 0.086, 0.096, 0.106, 0.116, 0.126, 0.146, 0.17, 0.203, 0.227, 0.252]
neutro_fit = [6.08, 5.8, 5.5, 5.31, 5.23, 5.29, 5.52, 5.68, 5.82, 5.85, 5.88, 5.92, 6.08]
neutro_se = [1.07, 0.7, 0.35, 0.14, 0.08, 0.08, 0.08, 0.09, 0.1, 0.13, 0.25, 0.42, 0.77]

dendri_fx = [0.315, 0.363, 0.422, 0.481, 0.525, 0.584, 0.643, 0.731, 0.819, 0.907, 0.996, 1.084, 1.165]
dendri_fit = [5.06, 5.18, 5.31, 5.43, 5.41, 5.36, 5.43, 5.52, 5.58, 5.6, 5.55, 5.48, 5.41]
dendri_se = [0.25, 0.12, 0.08, 0.07, 0.07, 0.07, 0.08, 0.11, 0.15, 0.2, 0.25, 0.45, 0.77]

# ---- assemble ---------------------------------------------------------------
all_pts = [purity_pts, bcell_pts, cd8_pts, cd4_pts, macro_pts, neutro_pts, dendri_pts]
fits = [(purity_fx, purity_fit, purity_se), (bcell_fx, bcell_fit, bcell_se),
        (cd8_fx, cd8_fit, cd8_se), (cd4_fx, cd4_fit, cd4_se),
        (macro_fx, macro_fit, macro_se), (neutro_fx, neutro_fit, neutro_se),
        (dendri_fx, dendri_fit, dendri_se)]

df = pd.concat([pd.DataFrame(p, columns=["x", "y"]).assign(cell=c)
                for c, p in zip(cells, all_pts)], ignore_index=True)

sns.set_theme(style="white")
plt.rcParams["font.family"] = ["Liberation Serif", "DejaVu Serif"]

W, H = 1600, 272
fig = plt.figure(figsize=(W / 100, H / 100), dpi=100)

lefts = [61, 281, 501, 721, 940, 1160, 1379]
pw, ph, pb = 212, 199, 41
xlims = [(0.021, 1.047), (0.012, 0.476), (0.052, 0.757), (-0.0108, 0.4196),
         (-0.018, 0.363), (0.049, 0.2618), (0.272, 1.206)]
border = "#333333"
red = "#D2542F"

for i, cell in enumerate(cells):
    ax = fig.add_axes([lefts[i] / W, pb / H, pw / W, ph / H])
    sub = df[df["cell"] == cell]
    sns.scatterplot(data=sub, x="x", y="y", ax=ax, color="#2b2b2b", s=26,
                    linewidth=0, legend=False, zorder=2)
    fx, fit, se = (np.array(a) for a in fits[i])
    ax.fill_between(fx, fit - se, fit + se, color="#999999", alpha=0.4, lw=0, zorder=3)
    sns.lineplot(x=fx, y=fit, ax=ax, color="#3366FF", lw=1.7, zorder=4,
                 estimator=None, sort=False)

    ax.set_xlim(*xlims[i])
    ax.set_ylim(2.71, 8.63)
    ax.set_xticks(x_ticks[i])
    ax.set_xticklabels(x_ticklabels[i])
    step = x_ticks[i][1] - x_ticks[i][0]
    ax.xaxis.set_minor_locator(MultipleLocator(step / 2))
    ax.set_yticks(y_ticks)
    ax.yaxis.set_minor_locator(MultipleLocator(0.5))
    ax.set_axisbelow(True)
    ax.grid(which="major", color="#EBEBEB", lw=0.9)
    ax.grid(which="minor", color="#F2F2F2", lw=0.5)
    ax.set_xlabel("")
    ax.set_ylabel("")
    for s in ax.spines.values():
        s.set_color(border)
        s.set_linewidth(0.9)
    ax.tick_params(axis="x", which="major", bottom=True, length=3, width=0.8,
                   color=border, pad=2, labelsize=10.5, labelcolor="black")
    ax.tick_params(which="minor", length=0)
    if i == 0:
        ax.spines["left"].set_position(("outward", 23 * 72 / 100))
        ax.tick_params(axis="y", which="major", left=True, length=3, width=0.8,
                       color=border, pad=1, labelsize=10.5, labelcolor="black")
        sw = 23 / pw
        ax.add_patch(Rectangle((-sw, 0), sw, 1, transform=ax.transAxes,
                               facecolor="#D9D9D9", edgecolor=border, lw=0.9,
                               clip_on=False, zorder=5))
        ax.text(-sw / 2, 0.5, "LIHC", transform=ax.transAxes, rotation=90,
                ha="center", va="center", fontsize=11, zorder=6)
    else:
        ax.tick_params(axis="y", left=False, labelleft=False)

    sh = 22 / ph
    ax.add_patch(Rectangle((0, 1), 1, sh, transform=ax.transAxes,
                           facecolor="#D9D9D9", edgecolor=border, lw=0.9,
                           clip_on=False, zorder=5))
    ax.text(0.5, 1 + sh / 2, cell, transform=ax.transAxes, ha="center",
            va="center", fontsize=11, zorder=6)

    ax.text(1 - 2 / pw, 0.926, cor_labels[i], transform=ax.transAxes, ha="right",
            va="baseline", color=red, fontsize=11, zorder=6)
    ax.text(1 - 2 / pw, 0.863, p_labels[i], transform=ax.transAxes, ha="right",
            va="baseline", color=red, fontsize=11, zorder=6)

fig.text(826 / W, 1 - 258 / H, "Infiltration Level", ha="center", va="center", fontsize=11)
fig.text(15 / W, 1 - 137 / H, "VPS72 Expression Level (log2 TPM)", rotation=90,
         ha="center", va="center", fontsize=12)

fig.savefig("out.png", dpi=100)
